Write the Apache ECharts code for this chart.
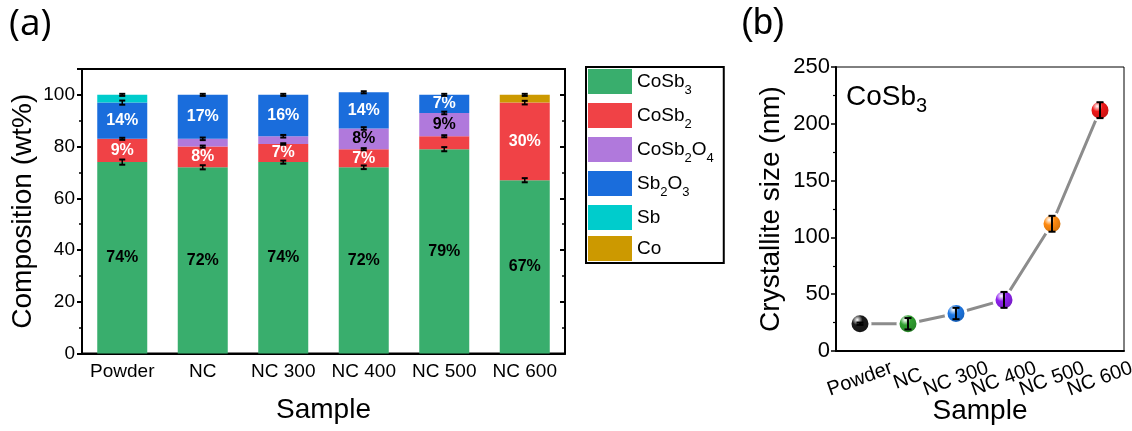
<!DOCTYPE html>
<html>
<head>
<meta charset="utf-8">
<script src="https://cdn.jsdelivr.net/npm/echarts@6/dist/echarts.min.js"></script>
<style>
  html, body { margin: 0; padding: 0; background: #fff; }
  #chart { width: 1132px; height: 431px; }
</style>
</head>
<body>
<div id="chart"></div>
<script>
// ---- (a) phase composition of each sample, wt% ----
const samples = ['Powder', 'NC', 'NC 300', 'NC 400', 'NC 500', 'NC 600'];
const phaseNames = ['CoSb3', 'CoSb2', 'CoSb2O4', 'Sb2O3', 'Sb', 'Co'];
const cosb3   = [74, 72, 74, 72, 79, 67];
const cosb2   = [9, 8, 7, 7, 5, 30];
const cosb2o4 = [0, 3, 3, 8, 9, 0];
const sb2o3   = [14, 17, 16, 14, 7, 0];
const sb      = [3, 0, 0, 0, 0, 0];
const co      = [0, 0, 0, 0, 0, 3];
// refinement uncertainty at the top of each phase segment
const errCosb3   = [1.0, 0.8, 0.6, 0.7, 0.8, 0.8];
const errCosb2   = [0.4, 0.4, 0.3, 0.4, 0.4, 0.7];
const errCosb2o4 = [0, 0.5, 0.5, 0.5, 0.5, 0];
const errSb2o3   = [0.8, 0.4, 0.4, 0.4, 0.4, 0];
const errSb      = [0.4, 0, 0, 0, 0, 0];
const errCo      = [0, 0, 0, 0, 0, 0.4];
const compTicks  = [0, 20, 40, 60, 80, 100];

// ---- (b) CoSb3 crystallite size, nm ----
const crystalSize = [24, 24, 33, 45, 112, 212];
const crystalErr  = [1, 5, 5, 7, 7, 7];

const FONT = "'Liberation Sans', Arial, sans-serif";
const phaseValues = [cosb3, cosb2, cosb2o4, sb2o3, sb, co];
const phaseErrors = [errCosb3, errCosb2, errCosb2o4, errSb2o3, errSb, errCo];
const phaseColors = ['#39ae6d', '#f04246', '#b079dc', '#1a6ddc', '#00cccc', '#cc9900'];
const labelColors = ['#000', '#fff', '#000', '#fff', '#fff', '#fff'];
const markerColors = ['#1a1a1a', '#30a030', '#1d78e6', '#8f22ee', '#ff8a10', '#f01818'];

function subscriptFormat(name) {
  return name.replace(/(\d)/g, '{s|$1}');
}

function shade(hex, k) {
  const n = parseInt(hex.slice(1), 16);
  const r = Math.round(((n >> 16) & 255) * k);
  const g = Math.round(((n >> 8) & 255) * k);
  const b = Math.round((n & 255) * k);
  return 'rgb(' + r + ',' + g + ',' + b + ')';
}

function gloss(c) {
  return {
    type: 'radial', x: 0.38, y: 0.33, r: 0.72,
    colorStops: [
      { offset: 0, color: '#ffffff' },
      { offset: 0.32, color: c },
      { offset: 1, color: shade(c, 0.75) }
    ]
  };
}

// stacked bars, one series per phase
const barSeries = phaseNames.map((name, p) => ({
  name: name,
  type: 'bar',
  stack: 'comp',
  xAxisIndex: 0,
  yAxisIndex: 0,
  barWidth: 50,
  itemStyle: { color: phaseColors[p] },
  label: {
    position: 'inside',
    color: labelColors[p],
    fontFamily: FONT,
    fontWeight: 'bold',
    fontSize: 16,
    formatter: (d) => d.value + '%'
  },
  data: phaseValues[p].map(v => ({ value: v, label: { show: v >= 7 } }))
}));

// error bars sitting on the cumulative top of each segment
const compErrData = [];
samples.forEach((s, i) => {
  let cum = 0;
  phaseValues.forEach((arr, p) => {
    cum += arr[i];
    if (arr[i] > 0 && phaseErrors[p][i] > 0) {
      compErrData.push([i, cum, phaseErrors[p][i]]);
    }
  });
});

function errorBar(capHalf, stemWidth) {
  return function (params, api) {
    const c = api.value(0), v = api.value(1), e = api.value(2);
    const hi = api.coord([c, v + e]);
    const lo = api.coord([c, v - e]);
    const x = hi[0];
    const st = { stroke: '#000', lineWidth: 2 };
    return {
      type: 'group',
      children: [
        { type: 'line', shape: { x1: x, y1: hi[1], x2: x, y2: lo[1] }, style: { stroke: '#000', lineWidth: stemWidth } },
        { type: 'line', shape: { x1: x - capHalf, y1: hi[1], x2: x + capHalf, y2: hi[1] }, style: st },
        { type: 'line', shape: { x1: x - capHalf, y1: lo[1], x2: x + capHalf, y2: lo[1] }, style: st }
      ]
    };
  };
}

const sizeErrData = crystalSize.map((v, i) => [i, v, crystalErr[i]]);

const axisLineStyle = { color: '#000', width: 2 };

const option = {
  animation: false,
  backgroundColor: '#fff',
  textStyle: { fontFamily: FONT },
  grid: [
    { left: 82, top: 69, width: 483, height: 284.5, show: true, borderColor: '#000', borderWidth: 2,
      backgroundColor: 'transparent', outerBoundsMode: 'none', containLabel: false },
    { left: 836, top: 67, width: 288, height: 284, show: true, borderColor: '#000', borderWidth: 1,
      backgroundColor: 'transparent', outerBoundsMode: 'none', containLabel: false }
  ],
  legend: {
    data: phaseNames,
    orient: 'vertical',
    left: 586,
    top: 67,
    padding: [2, 10, 2, 2],
    itemGap: 6,
    itemWidth: 44,
    itemHeight: 25,
    icon: 'rect',
    borderColor: '#000',
    borderWidth: 2,
    formatter: subscriptFormat,
    textStyle: {
      fontFamily: FONT, fontSize: 19, color: '#000', lineHeight: 25,
      rich: { s: { fontFamily: FONT, fontSize: 13, color: '#000', verticalAlign: 'bottom', padding: [0, 0, -3, 0] } }
    }
  },
  xAxis: [
    {
      gridIndex: 0, type: 'category', data: samples,
      axisLine: { lineStyle: axisLineStyle },
      axisTick: { alignWithLabel: true, length: 5, lineStyle: { width: 2, color: '#000' } },
      axisLabel: { color: '#000', fontSize: 19, fontFamily: FONT, margin: 9, interval: 0 },
      name: 'Sample', nameLocation: 'middle', nameGap: 43, nameMoveOverlap: false,
      nameTextStyle: { fontSize: 28, fontFamily: FONT, color: '#000' }
    },
    {
      gridIndex: 0, type: 'category', data: samples,
      axisLine: { show: false },
      axisTick: { length: 3, lineStyle: { width: 1.5, color: '#000' } },
      axisLabel: { show: false }
    },
    {
      gridIndex: 1, type: 'category', data: samples,
      axisLine: { lineStyle: axisLineStyle },
      axisTick: { alignWithLabel: true, length: 6, lineStyle: { width: 1.5, color: '#000' } },
      axisLabel: {
        color: '#000', fontSize: 20, fontFamily: FONT, interval: 0,
        rotate: 20, align: 'center', verticalAlign: 'middle', margin: 28
      },
      name: 'Sample', nameLocation: 'middle', nameGap: 46, nameMoveOverlap: false,
      nameTextStyle: { fontSize: 28, fontFamily: FONT, color: '#000' }
    },
    {
      gridIndex: 1, type: 'category', data: samples,
      axisLine: { show: false },
      axisTick: { length: 4, lineStyle: { width: 1.2, color: '#000' } },
      axisLabel: { show: false }
    }
  ],
  yAxis: [
    {
      gridIndex: 0, type: 'value', min: 0, max: 110, interval: 20,
      axisLine: { show: true, lineStyle: axisLineStyle },
      axisTick: { show: true, length: 5, lineStyle: { width: 2, color: '#000' } },
      minorTick: { show: true, splitNumber: 2, length: 3, lineStyle: { width: 1.5, color: '#000' } },
      splitLine: { show: false },
      axisLabel: {
        color: '#000', fontSize: 19, fontFamily: FONT, margin: 7,
        formatter: (v) => (compTicks.indexOf(v) >= 0 ? String(v) : '')
      },
      name: 'Composition (wt%)', nameLocation: 'middle', nameGap: 45, nameMoveOverlap: false,
      nameTextStyle: { fontSize: 28, fontFamily: FONT, color: '#000' }
    },
    {
      gridIndex: 0, type: 'value', min: 0, max: 110, interval: 20, position: 'right',
      axisLine: { show: true, lineStyle: axisLineStyle },
      axisTick: { show: true, inside: true, length: 5, lineStyle: { width: 2, color: '#000' } },
      minorTick: { show: true, splitNumber: 2, length: 3, lineStyle: { width: 1.5, color: '#000' } },
      splitLine: { show: false },
      axisLabel: { show: false }
    },
    {
      gridIndex: 1, type: 'value', min: 0, max: 250, interval: 50,
      axisLine: { show: true, lineStyle: axisLineStyle },
      axisTick: { show: true, length: 5, lineStyle: { width: 1.5, color: '#000' } },
      minorTick: { show: true, splitNumber: 2, length: 3, lineStyle: { width: 1.2, color: '#000' } },
      splitLine: { show: false },
      axisLabel: { color: '#000', fontSize: 22, fontFamily: FONT, margin: 6 },
      name: 'Crystallite size (nm)', nameLocation: 'middle', nameGap: 51, nameMoveOverlap: false,
      nameTextStyle: { fontSize: 28, fontFamily: FONT, color: '#000' }
    }
  ],
  graphic: [
    { type: 'text', left: 9, top: 6, style: { text: '(a)', fontSize: 37, fontFamily: "'Open Sans', sans-serif", fill: '#000' } },
    { type: 'text', left: 741, top: 6, style: { text: '(b)', fontSize: 36, fontFamily: FONT, fill: '#000' } },
    {
      type: 'text', left: 846, top: 80,
      style: {
        text: 'CoSb{s|3}', fontSize: 28, fontFamily: FONT, fill: '#000', lineHeight: 34,
        rich: { s: { fontSize: 20, fontFamily: FONT, fill: '#000', verticalAlign: 'bottom', padding: [0, 0, -2, 0] } }
      }
    }
  ],
  series: barSeries.concat([
    {
      type: 'custom', name: 'composition error',
      xAxisIndex: 0, yAxisIndex: 0, z: 5,
      renderItem: errorBar(3, 1.5),
      encode: { x: 0, y: 1 },
      data: compErrData
    },
    {
      type: 'line', name: 'crystallite size',
      xAxisIndex: 2, yAxisIndex: 2,
      symbol: 'circle', symbolSize: 20,
      lineStyle: { color: '#8c8c8c', width: 3 },
      itemStyle: { borderColor: '#fff', borderWidth: 3 },
      data: crystalSize.map((v, i) => ({ value: v, itemStyle: { color: gloss(markerColors[i]) } })),
      z: 3
    },
    {
      type: 'custom', name: 'size error',
      xAxisIndex: 2, yAxisIndex: 2, z: 6,
      renderItem: errorBar(3.5, 2),
      encode: { x: 0, y: 1 },
      data: sizeErrData
    }
  ])
};

const chart = echarts.init(document.getElementById('chart'), null, { renderer: 'canvas' });
chart.setOption(option);
</script>
</body>
</html>
